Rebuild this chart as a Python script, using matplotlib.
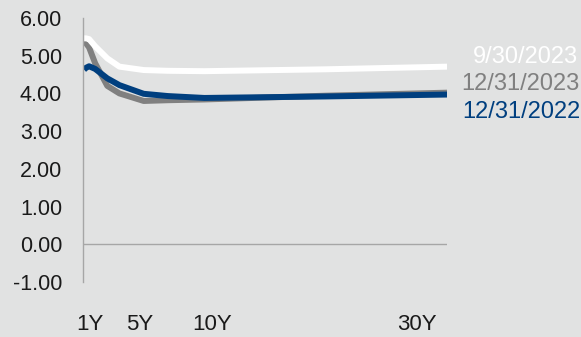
import matplotlib
matplotlib.use("Agg")
import matplotlib.pyplot as plt

plt.rcParams['font.family'] = ['Liberation Sans', 'DejaVu Sans']

# maturities in years: 1M, 3M, 6M, 1Y, 2Y, 3Y, 5Y, 7Y, 10Y, 20Y, 30Y
maturity = [1 / 12, 0.25, 0.5, 1, 2, 3, 5, 7, 10, 20, 30]
yld_sep23 = [5.46, 5.46, 5.44, 5.25, 4.93, 4.71, 4.62, 4.60, 4.59, 4.64, 4.71]
yld_dec23 = [5.40, 5.33, 5.22, 4.80, 4.20, 4.00, 3.80, 3.82, 3.84, 3.94, 4.02]
yld_dec22 = [4.63, 4.68, 4.72, 4.65, 4.40, 4.22, 3.99, 3.93, 3.88, 3.92, 3.97]

xtick_labels = ['1Y', '5Y', '10Y', '30Y']
xtick_pos = [0.55, 4.65, 10.6, 27.5]
yticks = [-1, 0, 1, 2, 3, 4, 5, 6]

bg = '#e1e2e2'
gray = '#808080'
blue = '#003f7f'

fig = plt.figure(figsize=(5.81, 3.37), dpi=100, facecolor=bg)
ax = fig.add_axes([0.1429, 0.1632, 0.6265, 0.7834], facecolor=bg)

ax.plot(maturity, yld_dec23, color=gray, lw=4.3, solid_capstyle='butt')
ax.plot(maturity, yld_sep23, color='white', lw=4.3, solid_capstyle='butt')
ax.plot(maturity, yld_dec22, color=blue, lw=4.3, solid_capstyle='butt')

ax.axhline(0, color='#a6a6a6', lw=1)

ax.set_xlim(0, 30)
ax.set_ylim(-1, 6)
ax.set_yticks(yticks)
ax.set_yticklabels([f'{v:.2f}' for v in yticks], fontsize=15.5, color='#1a1a1a')
ax.set_xticks(xtick_pos)
ax.set_xticklabels(xtick_labels, fontsize=16, color='#1a1a1a')
ax.tick_params(axis='y', length=0, pad=15)
ax.tick_params(axis='x', length=0, pad=23)

for s in ['top', 'right', 'bottom']:
    ax.spines[s].set_visible(False)
ax.spines['left'].set_color('#a6a6a6')
ax.spines['left'].set_linewidth(1)

fig.text(0.995, 1 - 57 / 337, '9/30/2023', color='white', fontsize=17, ha='right', va='center')
fig.text(0.997, 1 - 84 / 337, '12/31/2023', color=gray, fontsize=17, ha='right', va='center')
fig.text(0.795, 1 - 112 / 337, '12/31/2022', color=blue, fontsize=17, ha='left', va='center')

fig.savefig('out.png', dpi=100, facecolor=bg)
